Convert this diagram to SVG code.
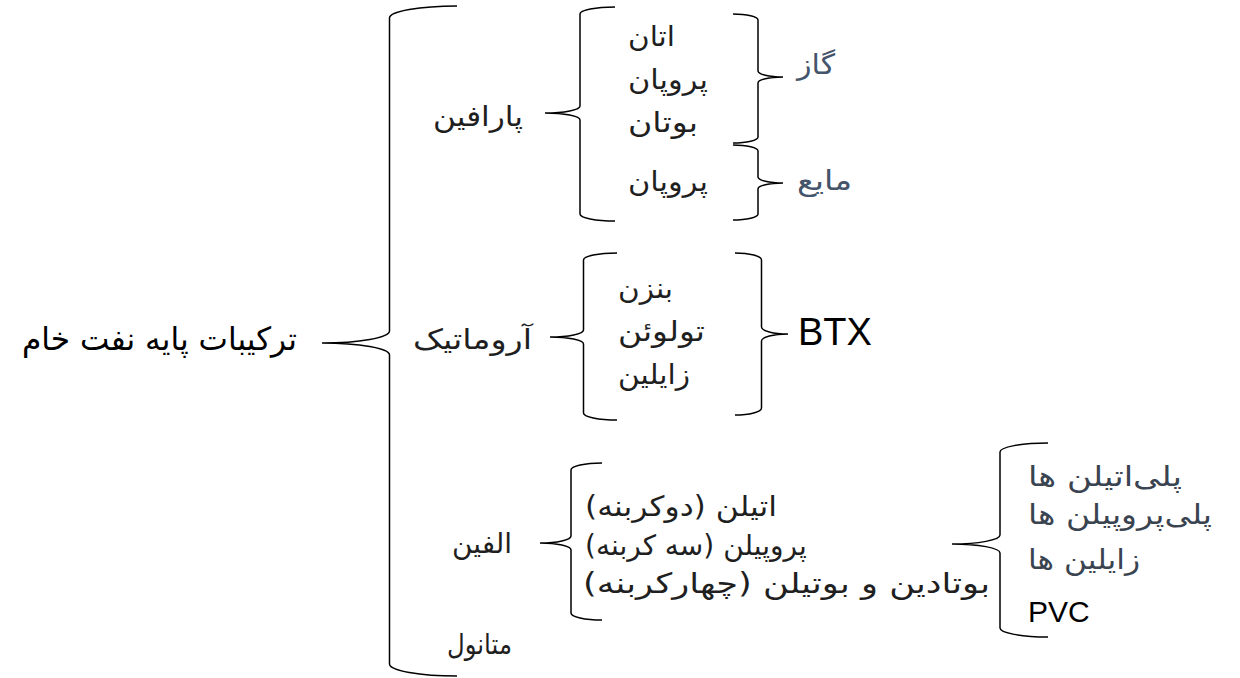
<svg xmlns="http://www.w3.org/2000/svg" width="1240" height="678" viewBox="0 0 1240 678">
<style>
.b{fill:none;stroke:#000;stroke-width:1.5}
.fa{font-family:"DejaVu Sans",sans-serif;font-size:28px;fill:#1f1f1f;direction:rtl;text-anchor:end}
.g{fill:#44546A}
.p{fill:#3A4450}
.main{font-size:32px;fill:#000}
.en{font-family:"Liberation Sans",Arial,sans-serif;fill:#000}
</style>
<rect width="1240" height="678" fill="#fff"/>
<g id="connectors">
<path class="b" d="M457 6 A67.5 12 0 0 0 389.5 18 L389.5 331 A67.5 12 0 0 1 322 343 A67.5 12 0 0 1 389.5 355 L389.5 664 A67.5 12 0 0 0 457 676"/>
<path class="b" d="M615 7 A35 7 0 0 0 580 14 L580 106 A35 7 0 0 1 545 113 A35 7 0 0 1 580 120 L580 214 A35 7 0 0 0 615 221"/>
<path class="b" d="M733 14 A25 6 0 0 1 758 20 L758 71 A25 6 0 0 0 783 77 A25 6 0 0 0 758 83 L758 137 A25 6 0 0 1 733 143"/>
<path class="b" d="M733 145 A25 6 0 0 1 758 151 L758 177 A25 6 0 0 0 783 183 A25 6 0 0 0 758 189 L758 214 A25 6 0 0 1 733 220"/>
<path class="b" d="M617 253 A33.5 7 0 0 0 583.5 260 L583.5 330 A33.5 7 0 0 1 550 337 A33.5 7 0 0 1 583.5 344 L583.5 413 A33.5 7 0 0 0 617 420"/>
<path class="b" d="M735 253 A26.5 7 0 0 1 761.5 260 L761.5 327 A26.5 7 0 0 0 788 334 A26.5 7 0 0 0 761.5 341 L761.5 408 A26.5 7 0 0 1 735 415"/>
<path class="b" d="M602 463 A31 7 0 0 0 571 470 L571 536 A31 7 0 0 1 540 543 A31 7 0 0 1 571 550 L571 613 A31 7 0 0 0 602 620"/>
<path class="b" d="M1048 443 A48 9 0 0 0 1000 452 L1000 535 A48 9 0 0 1 952 544 A48 9 0 0 1 1000 553 L1000 628 A48 9 0 0 0 1048 637"/>
</g>
<g id="root"><text class="fa main" x="22" y="350" textLength="275" lengthAdjust="spacingAndGlyphs">ترکیبات پایه نفت خام</text></g>
<g id="paraffin"><text class="fa" x="433" y="126" textLength="90" lengthAdjust="spacingAndGlyphs">پارافین</text></g>
<g id="paraffin-items">
<text class="fa" x="628" y="46" textLength="47" lengthAdjust="spacingAndGlyphs">اتان</text>
<text class="fa" x="628" y="89" textLength="80" lengthAdjust="spacingAndGlyphs">پروپان</text>
<text class="fa" x="628" y="132" textLength="70" lengthAdjust="spacingAndGlyphs">بوتان</text>
<text class="fa" x="628" y="191" textLength="80" lengthAdjust="spacingAndGlyphs">پروپان</text>
</g>
<g id="gas"><text class="fa g" x="797" y="74" textLength="38" lengthAdjust="spacingAndGlyphs">گاز</text></g>
<g id="liquid"><text class="fa g" x="797" y="190" textLength="55" lengthAdjust="spacingAndGlyphs">مایع</text></g>
<g id="aromatic"><text class="fa" x="413" y="349" textLength="119" lengthAdjust="spacingAndGlyphs">آروماتیک</text></g>
<g id="aromatic-items">
<text class="fa" x="618" y="298" textLength="55" lengthAdjust="spacingAndGlyphs">بنزن</text>
<text class="fa" x="618" y="341" textLength="87" lengthAdjust="spacingAndGlyphs">تولوئن</text>
<text class="fa" x="618" y="384" textLength="72" lengthAdjust="spacingAndGlyphs">زایلین</text>
</g>
<g id="btx"><text class="en" x="798" y="345" font-size="38">BTX</text></g>
<g id="olefin"><text class="fa" x="452" y="553" textLength="60" lengthAdjust="spacingAndGlyphs">الفین</text></g>
<g id="olefin-items">
<text class="fa" x="585" y="516" textLength="192" lengthAdjust="spacingAndGlyphs">اتیلن (دوکربنه)</text>
<text class="fa" x="585" y="555" font-size="27">پروپیلن (سه کربنه)</text>
<text class="fa" x="583" y="593" textLength="407" lengthAdjust="spacingAndGlyphs">بوتادین و بوتیلن (چهارکربنه)</text>
</g>
<g id="polymers">
<text class="fa p" x="1028" y="486" textLength="154" lengthAdjust="spacingAndGlyphs">پلی&#x200C;اتیلن ها</text>
<text class="fa p" x="1028" y="524" textLength="184" lengthAdjust="spacingAndGlyphs">پلی&#x200C;پروپیلن ها</text>
<text class="fa p" x="1028" y="569" textLength="112" lengthAdjust="spacingAndGlyphs">زایلین ها</text>
<text class="en" x="1028" y="622" font-size="30">PVC</text>
</g>
<g id="methanol"><text class="fa" x="447" y="654" textLength="65" lengthAdjust="spacingAndGlyphs">متانول</text></g>
</svg>
